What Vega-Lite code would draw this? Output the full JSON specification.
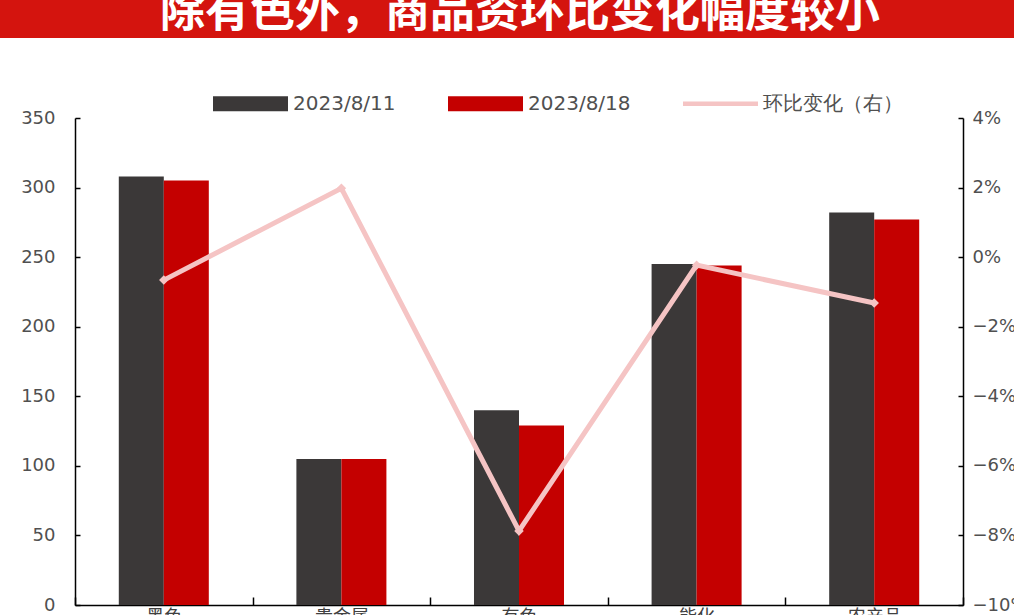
{
  "$schema": "https://vega.github.io/schema/vega-lite/v6.json",
  "padding": {"left": 0, "top": -10, "right": 0, "bottom": 0},
  "background": "white",
  "spacing": 71,
  "config": {"view": {"stroke": null}},
  "datasets": {
    "bars": [
      {"cat": "黑色", "s": "2023/8/11", "v": 308},
      {"cat": "黑色", "s": "2023/8/18", "v": 305},
      {"cat": "贵金属", "s": "2023/8/11", "v": 105},
      {"cat": "贵金属", "s": "2023/8/18", "v": 105},
      {"cat": "有色", "s": "2023/8/11", "v": 140},
      {"cat": "有色", "s": "2023/8/18", "v": 129},
      {"cat": "能化", "s": "2023/8/11", "v": 245},
      {"cat": "能化", "s": "2023/8/18", "v": 244},
      {"cat": "农产品", "s": "2023/8/11", "v": 282},
      {"cat": "农产品", "s": "2023/8/18", "v": 277}
    ],
    "chg": [
      {"cat": "黑色", "s": "环比变化（右）", "c": -0.0066},
      {"cat": "贵金属", "s": "环比变化（右）", "c": 0.0198},
      {"cat": "有色", "s": "环比变化（右）", "c": -0.0787},
      {"cat": "能化", "s": "环比变化（右）", "c": -0.0023},
      {"cat": "农产品", "s": "环比变化（右）", "c": -0.0132}
    ],
    "title": [{"t": "除有色外，商品资环比变化幅度较小"}]
  },
  "vconcat": [
    {
      "width": 1014,
      "height": 39,
      "view": {"fill": "#d4140e", "stroke": null},
      "data": {"name": "title"},
      "mark": {"type": "text", "color": "white", "font": "Noto Sans CJK SC", "fontWeight": "bold", "fontSize": 45, "baseline": "alphabetic", "dy": 8, "dx": 13},
      "encoding": {"text": {"field": "t"}}
    },
    {
      "width": 1014,
      "height": 487,
      "layer": [
        {
          "data": {"name": "bars"},
          "mark": {"type": "bar"},
          "encoding": {
            "x": {"field": "cat", "type": "nominal", "sort": ["黑色", "贵金属", "有色", "能化", "农产品"],
              "scale": {"range": [75, 963], "paddingInner": 0, "paddingOuter": 0},
              "axis": {"title": null, "labelAngle": 0, "tickBand": "extent", "tickSize": -8, "labelPadding": 11, "domainColor": "black", "domainWidth": 1.5, "tickColor": "black", "tickWidth": 1.5, "labelFont": "Noto Sans CJK SC", "labelFontSize": 18, "labelColor": "#404040", "labelBaseline": "top"}},
            "xOffset": {"field": "s", "type": "nominal", "scale": {"paddingInner": 0, "paddingOuter": 0.973}},
            "y": {"field": "v", "type": "quantitative", "scale": {"domain": [0, 350]},
              "axis": {"title": null, "offset": -75, "values": [0, 50, 100, 150, 200, 250, 300, 350], "tickSize": -5, "labelPadding": 25, "domainColor": "black", "domainWidth": 1.5, "tickColor": "black", "tickWidth": 1.5, "grid": false, "labelFont": "DejaVu Sans", "labelFontSize": 18, "labelColor": "#505050"}},
            "color": {"field": "s", "type": "nominal",
              "scale": {"domain": ["2023/8/11", "2023/8/18", "环比变化（右）"], "range": ["#3b3838", "#c40000", "#f5c4c4"]},
              "legend": {"title": null, "orient": "none", "legendX": 213, "legendY": 67, "direction": "horizontal",
                "symbolType": "M-1,-0.2H1V0.2H-1Z", "symbolSize": 5625, "symbolStrokeWidth": 0,
                "labelFont": "DejaVu Sans", "labelFontSize": 20, "labelColor": "#505050", "columnPadding": 52, "labelOffset": 5,
                "encode": {"symbols": {"update": {"shape": {"signal": "datum.value === '环比变化（右）' ? 'M-1,-0.06H1V0.06H-1Z' : 'M-1,-0.2H1V0.2H-1Z'"}}}}}}
          }
        },
        {
          "data": {"name": "chg"},
          "mark": {"type": "line", "strokeWidth": 5, "point": {"shape": "diamond", "size": 90, "filled": true, "color": "#f7d4d4"}},
          "encoding": {
            "x": {"field": "cat", "type": "nominal", "sort": ["黑色", "贵金属", "有色", "能化", "农产品"]},
            "y": {"field": "c", "type": "quantitative", "scale": {"domain": [-0.1, 0.04]},
              "axis": {"title": null, "orient": "right", "offset": -51, "format": ".0%", "values": [-0.1, -0.08, -0.06, -0.04, -0.02, 0, 0.02, 0.04], "tickSize": -5, "labelPadding": 14, "domainColor": "black", "domainWidth": 1.5, "tickColor": "black", "tickWidth": 1.5, "grid": false, "labelFont": "DejaVu Sans", "labelFontSize": 18, "labelColor": "#505050"}},
            "color": {"field": "s", "type": "nominal"}
          }
        }
      ],
      "resolve": {"scale": {"y": "independent"}}
    }
  ]
}
